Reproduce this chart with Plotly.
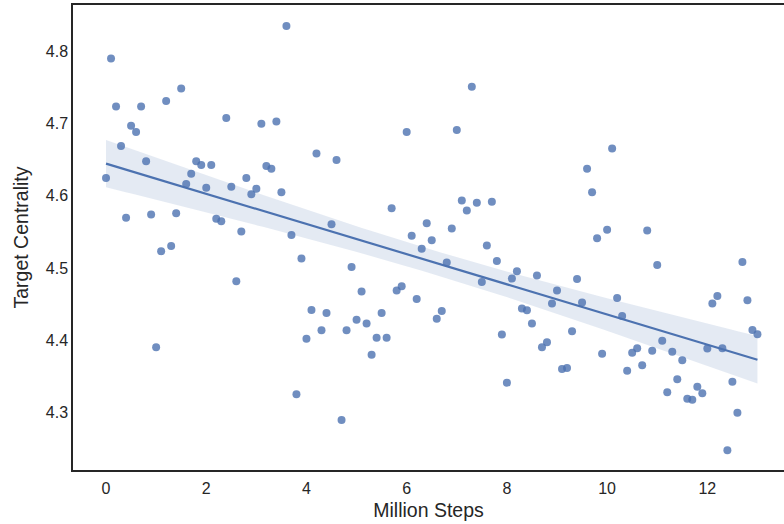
import numpy as np
import plotly.graph_objects as go

# Data
million_steps = [round(i * 0.1, 1) for i in range(131)]
target_centrality = [
    4.6244, 4.7900, 4.7235, 4.6687, 4.5694, 4.6968, 4.6881, 4.7235, 4.6479, 4.5740,
    4.3903, 4.5233, 4.7310, 4.5306, 4.5759, 4.7485, 4.6161, 4.6303, 4.6479, 4.6424,
    4.6109, 4.6424, 4.5680, 4.5648, 4.7075, 4.6123, 4.4817, 4.5504, 4.6244, 4.6022,
    4.6096, 4.6996, 4.6410, 4.6373, 4.7028, 4.6050, 4.8349, 4.5458, 4.3252, 4.5130,
    4.4022, 4.4420, 4.6584, 4.4139, 4.4378, 4.5607, 4.6493, 4.2896, 4.4139, 4.5015,
    4.4285, 4.4673, 4.4230, 4.3800, 4.4036, 4.4378, 4.4036, 4.5828, 4.4687, 4.4748,
    4.6881, 4.5445, 4.4572, 4.5265, 4.5620, 4.5385, 4.4299, 4.4406, 4.5075, 4.5546,
    4.6909, 4.5934, 4.5795, 4.7508, 4.5902, 4.4807, 4.5310, 4.5916, 4.5098, 4.4078,
    4.3413, 4.4853, 4.4956, 4.4438, 4.4416, 4.4230, 4.4895, 4.3903, 4.3972, 4.4507,
    4.4687, 4.3602, 4.3616, 4.4125, 4.4849, 4.4521, 4.6373, 4.6050, 4.5413, 4.3814,
    4.5528, 4.6654, 4.4586, 4.4337, 4.3579, 4.3828, 4.3889, 4.3654, 4.5518, 4.3856,
    4.5043, 4.3994, 4.3280, 4.3842, 4.3460, 4.3723, 4.3191, 4.3177, 4.3357, 4.3266,
    4.3884, 4.4507, 4.4614, 4.3889, 4.2476, 4.3427, 4.2997, 4.5084, 4.4554, 4.4143,
    4.4083,
]
x_ticks = [0, 2, 4, 6, 8, 10, 12]
y_ticks = [4.3, 4.4, 4.5, 4.6, 4.7, 4.8]
x_title = "Million Steps"
y_title = "Target Centrality"

x = np.array(million_steps)
y = np.array(target_centrality)

# OLS fit with 95% confidence band of the mean
n = len(x)
slope, intercept = np.polyfit(x, y, 1)
xg = np.linspace(x.min(), x.max(), 100)
yg = intercept + slope * xg
resid = y - (intercept + slope * x)
s = np.sqrt(np.sum(resid ** 2) / (n - 2))
sxx = np.sum((x - x.mean()) ** 2)
se = s * np.sqrt(1.0 / n + (xg - x.mean()) ** 2 / sxx)
tval = 1.979
lo = yg - tval * se
hi = yg + tval * se

blue = "#4C72B0"
dark = "#262626"

fig = go.Figure()
fig.add_trace(go.Scatter(
    x=np.concatenate([xg, xg[::-1]]), y=np.concatenate([hi, lo[::-1]]),
    fill="toself", fillcolor="rgba(76,114,176,0.15)", line=dict(width=0),
    mode="lines", hoverinfo="skip", showlegend=False))
fig.add_trace(go.Scatter(
    x=x, y=y, mode="markers",
    marker=dict(color=blue, size=8, opacity=0.8, line=dict(width=0)),
    showlegend=False))
fig.add_trace(go.Scatter(
    x=xg, y=yg, mode="lines", line=dict(color=blue, width=2.2), showlegend=False))

font_family = "Liberation Sans, Arial, sans-serif"
fig.update_layout(
    width=784, height=524,
    margin=dict(l=73, r=0, t=5, b=54),
    paper_bgcolor="white", plot_bgcolor="white",
    font=dict(family=font_family, color=dark, size=16),
    xaxis=dict(
        range=[-0.659, 13.53], tickvals=x_ticks, ticktext=[str(v) for v in x_ticks],
        showgrid=False, zeroline=False, showline=True, linecolor=dark, linewidth=1.5,
        mirror=True, ticks="", tickfont=dict(size=16, color=dark),
        ticklabelstandoff=3,
        title=dict(text=x_title, font=dict(size=19.5, color=dark), standoff=7),
    ),
    yaxis=dict(
        range=[4.2204, 4.864], tickvals=y_ticks, ticktext=[f"{v:.1f}" for v in y_ticks],
        showgrid=False, zeroline=False, showline=True, linecolor=dark, linewidth=1.5,
        mirror=False, ticks="", tickfont=dict(size=16, color=dark),
        title=dict(text=y_title, font=dict(size=19.5, color=dark), standoff=12),
    ),
)

fig.write_html("out.html")
